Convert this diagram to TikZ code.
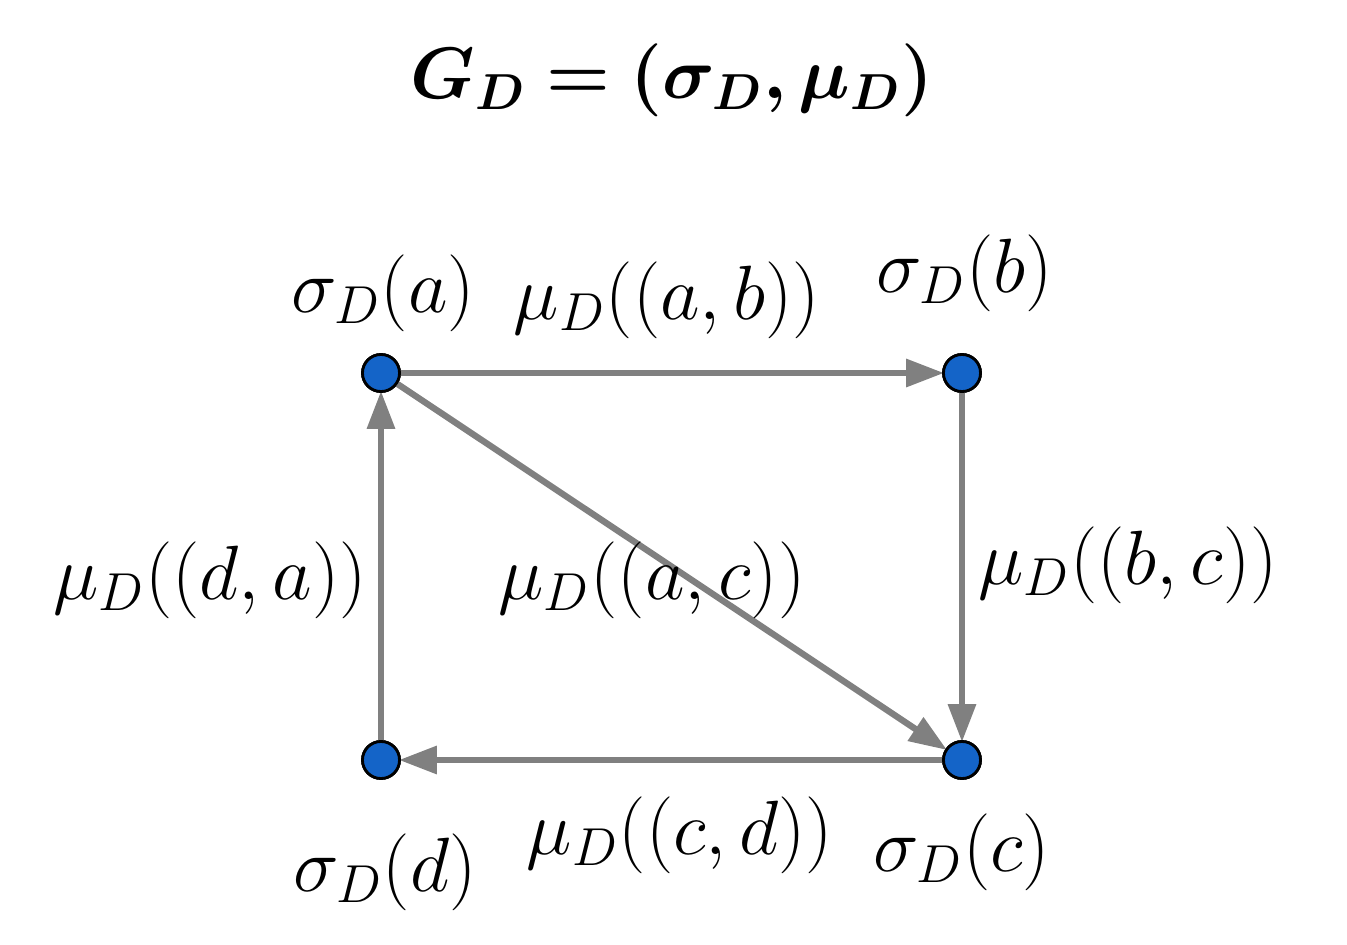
\documentclass[tikz,border=0pt]{standalone}
\usepackage{amsmath,bm}
\usetikzlibrary{arrows.meta}
\begin{document}
\begin{tikzpicture}[x=0.01cm,y=-0.01cm,
  vert/.style={circle,draw=black,line width=0.8pt,fill={rgb,255:red,20;green,100;blue,200},inner sep=0pt,minimum size=0.37cm},
  edge/.style={draw={rgb,255:red,128;green,128;blue,128},line width=1.8pt,-{Triangle[length=0.38cm,width=0.27cm]},shorten >=-0.02cm},
  lab/.style={font=\huge,scale=1.055,inner sep=0pt}]
\useasboundingbox (0,0) rectangle (1347,945);
\node[font=\huge] (title) at (672,80) {$\bm{G_D=(\sigma_D,\mu_D)}$};
\node[vert] (a) at (381,373) {};
\node[vert] (b) at (962,373) {};
\node[vert] (c) at (962,760) {};
\node[vert] (d) at (381,760) {};
\draw[edge] (a) -- (b);
\draw[edge] (b) -- (c);
\draw[edge] (a) -- (c);
\draw[edge] (c) -- (d);
\draw[edge] (d) -- (a);
\node[vert] at (a) {};
\node[vert] at (b) {};
\node[vert] at (c) {};
\node[vert] at (d) {};
\node[lab] (la) at (383,293) {$\sigma_D(a)$};
\node[lab] (lb) at (965,273) {$\sigma_D(b)$};
\node[lab] (lc) at (962,852) {$\sigma_D(c)$};
\node[lab] (ld) at (385,872) {$\sigma_D(d)$};
\node[lab] (lab) at (667,300) {$\mu_D((a,b))$};
\node[lab] (lbc) at (1128,565) {$\mu_D((b,c))$};
\node[lab] (lac) at (652,580) {$\mu_D((a,c))$};
\node[lab] (lda) at (210,580) {$\mu_D((d,a))$};
\node[lab] (lcd) at (680,835) {$\mu_D((c,d))$};
\end{tikzpicture}
\end{document}
